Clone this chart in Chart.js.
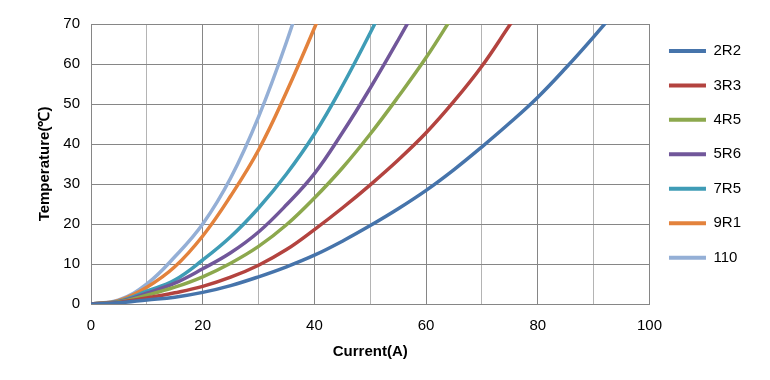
<!DOCTYPE html>
<html>
<head>
<meta charset="utf-8">
<script src="https://cdn.jsdelivr.net/npm/chart.js@4.4.1/dist/chart.umd.min.js"></script>
<style>
  html, body { margin: 0; padding: 0; background: #fff; }
  #wrap { width: 770px; height: 380px; position: relative; }
</style>
</head>
<body>
<div id="wrap"><canvas id="chart"></canvas></div>
<script>
// current (A) sample points, shared by all series
const current = [0, 5, 10, 15, 20, 25, 30, 35, 40, 45, 50, 55, 60, 65, 70, 75, 80, 85, 90, 95];

// temperature rise (℃)
const t2R2 = [0, 0.3, 1.0, 1.7, 2.9, 4.6, 6.8, 9.3, 12.2, 15.7, 19.6, 23.8, 28.4, 33.6, 39.3, 45.3, 51.7, 59, 66.8, 75];
const t3R3 = [0, 0.4, 1.5, 2.8, 4.4, 6.7, 9.7, 13.6, 18.6, 24, 29.8, 36, 42.8, 50.7, 59.5, 69.8, 80];
const t4R5 = [0, 0.5, 2.2, 4.2, 6.8, 10.2, 14.4, 19.8, 26.5, 34, 42.5, 51.8, 61.6, 72.5];
const t5R6 = [0, 0.6, 2.7, 5.2, 8.8, 12.8, 18, 24.8, 32.6, 42.8, 54, 66, 78.5];
const t7R5 = [0, 0.7, 3.2, 6, 11, 16.8, 24, 32.5, 42.5, 54.5, 67.8, 82];
const t9R1 = [0, 0.9, 4.2, 9.3, 17, 27, 38.5, 53, 69, 86];
const t110 = [0, 1, 5, 11.8, 20, 31.5, 46.8, 65.5, 87];

const seriesNames = ["2R2", "3R3", "4R5", "5R6", "7R5", "9R1", "110"];
const seriesValues = [t2R2, t3R3, t4R5, t5R6, t7R5, t9R1, t110];
const seriesColors = ["#4674AB", "#B3433F", "#8CA84D", "#71579A", "#3F9CB6", "#E3823C", "#94AFD6"];

const xTicks = [0, 20, 40, 60, 80, 100];
const yTicks = [0, 10, 20, 30, 40, 50, 60, 70];

const FONT = "'Liberation Sans', Arial, sans-serif";

const datasets = seriesNames.map((name, i) => ({
    label: name,
    data: seriesValues[i].map((t, k) => ({ x: current[k], y: t })),
    borderColor: seriesColors[i],
    backgroundColor: seriesColors[i],
    borderWidth: 3.5,
    pointRadius: 0,
    showLine: true,
    tension: 0.4,
    clip: 0
}));

new Chart(document.getElementById("chart"), {
    type: "scatter",
    data: { datasets: datasets },
    options: {
        responsive: true,
        maintainAspectRatio: false,
        devicePixelRatio: 1,
        animation: false,
        layout: { padding: { top: 24, right: 19, left: 0, bottom: 0 } },
        plugins: {
            tooltip: { enabled: false },
            legend: {
                position: "right",
                align: "start",
                labels: {
                    boxWidth: 37,
                    boxHeight: 4,
                    padding: 19.45,
                    color: "#000",
                    font: { family: FONT, size: 15 },
                    generateLabels: (chart) =>
                        Chart.defaults.plugins.legend.labels.generateLabels(chart).map(l => ({
                            ...l, lineWidth: 0, fillStyle: l.strokeStyle
                        }))
                }
            }
        },
        scales: {
            x: {
                type: "linear",
                min: 0,
                max: 100,
                afterFit: (s) => { s.height = 76; },
                ticks: {
                    stepSize: 10,
                    autoSkip: false,
                    maxRotation: 0,
                    padding: 13,
                    color: "#000",
                    font: { family: FONT, size: 15 },
                    callback: (v) => xTicks.includes(v) ? v : ""
                },
                grid: {
                    drawTicks: false,
                    color: (c) => (c.tick && c.tick.value % 20 === 0) ? "#868686" : "#B4B4B4"
                },
                border: { color: "#868686" },
                title: {
                    display: true,
                    text: "Current(A)",
                    color: "#000",
                    font: { family: FONT, size: 15, weight: "bold" },
                    padding: { top: 0, bottom: 19 }
                }
            },
            y: {
                min: 0,
                max: 70,
                afterFit: (s) => { s.width = 91; },
                ticks: {
                    stepSize: 10,
                    padding: 11,
                    color: "#000",
                    font: { family: FONT, size: 15 },
                    callback: (v) => yTicks.includes(v) ? v : ""
                },
                grid: { drawTicks: false, color: "#868686" },
                border: { color: "#868686" },
                title: {
                    display: true,
                    text: "Temperature(℃)",
                    color: "#000",
                    font: { family: FONT, size: 15, weight: "bold" },
                    padding: { top: 36, bottom: 0 }
                }
            }
        }
    }
});
</script>
</body>
</html>
